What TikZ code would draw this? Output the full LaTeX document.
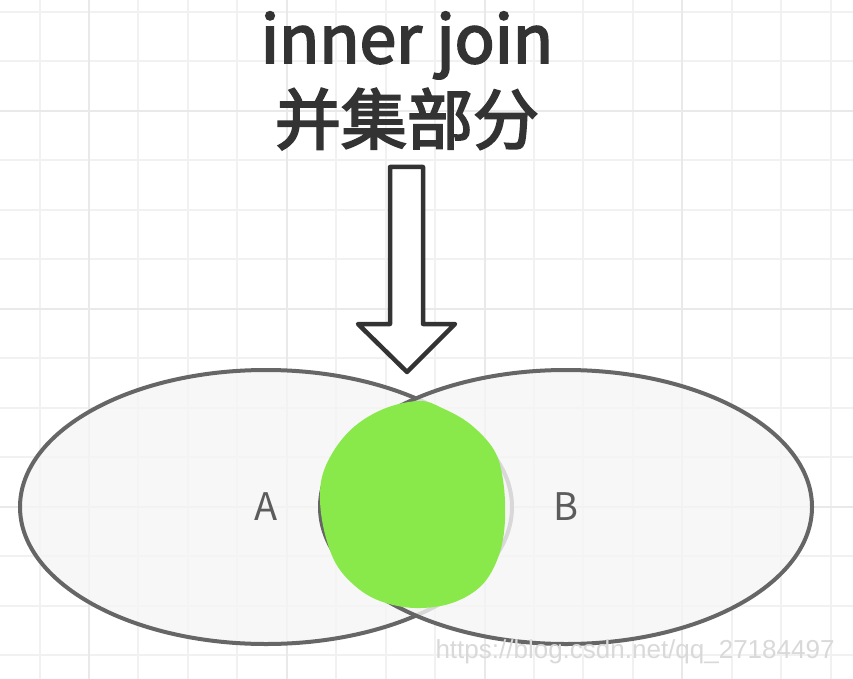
\documentclass[tikz,border=0pt]{standalone}
\usepackage{fontspec}
\setmainfont{Noto Sans CJK SC}
\newfontfamily\titlefont[FakeBold=3]{Noto Sans CJK SC}
\newfontfamily\wmfont{Liberation Sans}
\usetikzlibrary{shapes.geometric}

\definecolor{gridminor}{HTML}{F1F1F1}
\definecolor{gridmajor}{HTML}{E9E9E9}
\definecolor{setline}{HTML}{666666}
\definecolor{setfill}{HTML}{F5F5F5}
\definecolor{blobgreen}{HTML}{89E84A}
\definecolor{textdark}{HTML}{333333}

\tikzset{
  setnode/.style={ellipse, draw=setline, line width=4pt, fill=setfill,
    fill opacity=0.8, text opacity=1, minimum width=492pt,
    minimum height=274pt, inner sep=0pt, text=textdark!80,
    font=\fontsize{38}{38}\selectfont},
  titletext/.style={text=textdark, font=\titlefont\fontsize{66}{66}\selectfont},
}

\begin{document}
\begin{tikzpicture}[x=1pt,y=-1pt]

    \useasboundingbox (0,0) rectangle (853,679);
    \fill[white] (0,0) rectangle (853,679);

    % Grid
    \foreach \i in {0,...,16} {
        \draw[gridminor, line width=2pt] (39.5+49.45*\i,0) -- (39.5+49.45*\i,679);
    }
    \foreach \i in {0,...,13} {
        \draw[gridminor, line width=2pt] (0,11.7+49.5*\i) -- (853,11.7+49.5*\i);
    }
    \foreach \x in {89,286.8,484.6,682.4} {
        \draw[gridmajor, line width=2pt] (\x,0) -- (\x,679);
    }
    \foreach \y in {110.7,308.7,506.7} {
        \draw[gridmajor, line width=2pt] (0,\y) -- (853,\y);
    }

    % Title
    \node[titletext, anchor=base] (title1) at (407,63) {inner join};
    \node[titletext, anchor=base] (title2) at (407,144) {并集部分};

    % Block arrow
    \draw[textdark, line width=4.5pt, line join=round, fill=white]
        (390,167) -- (423,167) -- (423,324) -- (455,324) -- (407,372)
        -- (358,324) -- (390,324) -- cycle;

    % Sets
    \node[setnode] (setA) at (266,507) {A};
    \node[setnode] (setB) at (566,507) {B};

    % Inner part
    \fill[blobgreen] plot[smooth cycle, tension=0.6] coordinates {
        (420,401) (442,408) (470,424) (494,450) (503,480) (505,520)
        (499,555) (482,585) (452,603) (415,608) (380,601) (354,585)
        (334,560) (322,520) (321,482) (333,452) (355,426) (386,408)};

    % Watermark
    \node[anchor=base west, text=gray!30, font=\wmfont\fontsize{26}{26}\selectfont]
        (mark) at (432,658) {https://blog.csdn.net/qq\_27184497};

\end{tikzpicture}
\end{document}
